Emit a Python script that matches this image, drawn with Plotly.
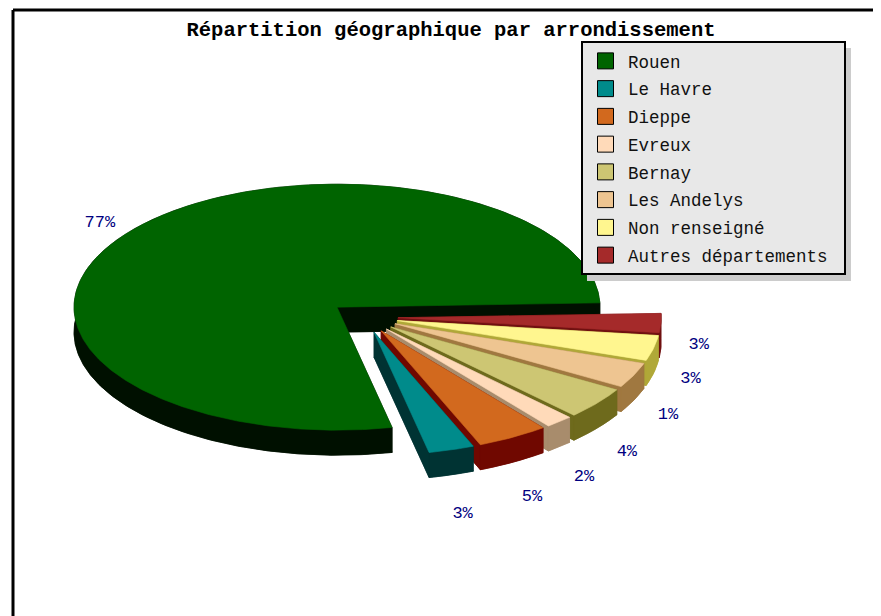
import numpy as np
import plotly.graph_objects as go

title = "Répartition géographique par arrondissement"
categories = ["Rouen", "Le Havre", "Dieppe", "Evreux", "Bernay", "Les Andelys", "Non renseigné", "Autres départements"]
shares = [77.8, 2.8, 4.4, 1.7, 4.2, 3.3, 3.3, 2.5]
labels = ["77%", "3%", "5%", "2%", "4%", "1%", "3%", "3%"]
top_colors = ["#006400", "#008B8B", "#D2691E", "#FFDAB9", "#CDC673", "#EEC591", "#FFF68F", "#A52A2A"]
side_colors = ["#001000", "#003333", "#700800", "#A88C6C", "#6E6A1C", "#A07840", "#B0A838", "#701010"]

START = 2
CX, CY, RX, RY, DEPTH, EXPLODE = 364, 317, 263, 123, 25, 0.13
LABEL_RX, LABEL_RY, LABEL_DY = 335, 185, 20
# the page body has an 8 px margin, so the figure covers the window from (8, 8)
PAGE_OFFSET = 8
WIN_W, WIN_H = 881, 616

fr = np.array(shares) / sum(shares)
edges = START + np.concatenate([[0], np.cumsum(fr) * 360])

fig = go.Figure()


def poly(xs, ys, color, name=None):
    fig.add_trace(go.Scatter(x=list(xs) + [xs[0]], y=list(ys) + [ys[0]], mode="lines", fill="toself",
                             fillcolor=color, line=dict(width=0.6, color=color), hoverinfo="skip",
                             showlegend=False, name=name or ""))


def wedge(i):
    a0, a1 = edges[i], edges[i + 1]
    mid = np.radians((a0 + a1) / 2)
    ax = CX + EXPLODE * RX * np.cos(mid)
    ay = CY - EXPLODE * RY * np.sin(mid)
    t = np.radians(np.linspace(a0, a1, max(int(a1 - a0) * 2, 8)))
    ex = ax + RX * np.cos(t)
    ey = ay - RY * np.sin(t)
    # extruded body
    poly([ax, *ex], [ay + DEPTH, *(ey + DEPTH)], side_colors[i])
    poly([ax, ex[0], ex[0], ax], [ay, ey[0], ey[0] + DEPTH, ay + DEPTH], side_colors[i])
    poly([ax, ex[-1], ex[-1], ax], [ay, ey[-1], ey[-1] + DEPTH, ay + DEPTH], side_colors[i])
    poly(list(ex) + list(ex[::-1]), list(ey) + list(ey[::-1] + DEPTH), side_colors[i])
    # top face
    poly([ax, *ex], [ay, *ey], top_colors[i], categories[i])


for i in [0, 7, 6, 5, 4, 3, 2, 1]:
    wedge(i)

# percentage labels
mids = np.radians((edges[:-1] + edges[1:]) / 2)
fig.add_trace(go.Scatter(
    x=CX + LABEL_RX * np.cos(mids), y=CY + LABEL_DY - LABEL_RY * np.sin(mids), mode="text", text=labels,
    textposition="middle center", textfont=dict(family="Liberation Mono", size=17, color="#000080"),
    showlegend=False, hoverinfo="skip"))

# legend entries (a trailing no-break space on the longest name widens the box)
longest = max(categories, key=len)
for name, color in zip(categories, top_colors):
    shown = name + "\u00a0" if name == longest else name
    fig.add_trace(go.Scatter(x=[None], y=[None], mode="markers", name=shown, legendgroup=name,
                             marker=dict(symbol="square", size=18, color=color, line=dict(width=1, color="#000000"))))

W, H = WIN_W - PAGE_OFFSET, WIN_H - PAGE_OFFSET
fig.update_layout(
    width=W, height=H, autosize=False,
    margin=dict(l=0, r=0, t=0, b=0),
    paper_bgcolor="white", plot_bgcolor="white",
    xaxis=dict(range=[PAGE_OFFSET, WIN_W], visible=False, fixedrange=True),
    yaxis=dict(range=[WIN_H, PAGE_OFFSET], visible=False, fixedrange=True),
    title=dict(text=title, x=(451 - PAGE_OFFSET) / W, xanchor="center", y=1 - (29 - PAGE_OFFSET) / H, yanchor="middle",
               font=dict(family="Liberation Mono", size=20.5, color="black", weight="bold")),
    legend=dict(x=(581 - PAGE_OFFSET) / W, y=1 - (41 - PAGE_OFFSET) / H, xanchor="left", yanchor="top", bgcolor="#E8E8E8",
                bordercolor="black", borderwidth=2, tracegroupgap=2, itemwidth=35,
                font=dict(family="Liberation Mono", size=17.5, color="#111111")),
    shapes=[
        dict(type="rect", x0=587, y0=48, x1=851, y1=281, fillcolor="#CCCCCC", line=dict(width=0), layer="above"),
        dict(type="line", x0=13, y0=10, x1=WIN_W, y1=10, line=dict(color="black", width=3), layer="above"),
        dict(type="line", x0=13, y0=10, x1=13, y1=WIN_H, line=dict(color="black", width=3), layer="above"),
    ],
)

fig.write_html("out.html", config={"displayModeBar": False})
